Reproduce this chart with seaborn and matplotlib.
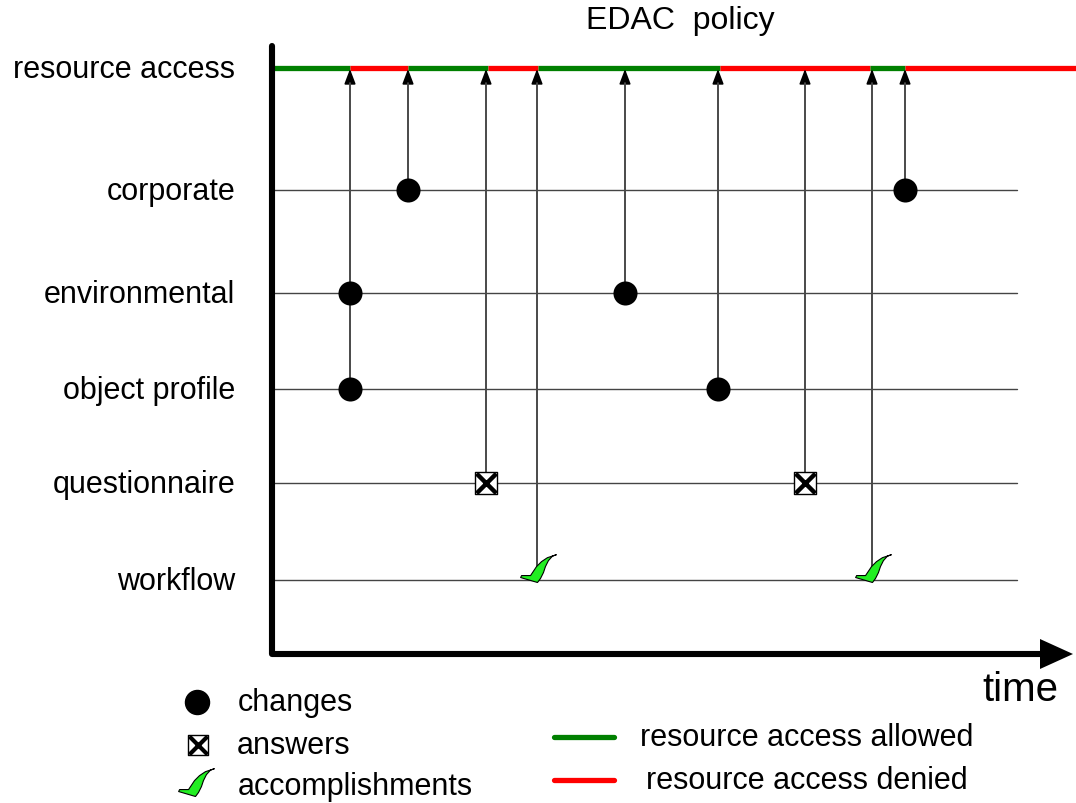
import numpy as np
import pandas as pd
import matplotlib
matplotlib.use("Agg")
import matplotlib.pyplot as plt
from matplotlib.path import Path
import seaborn as sns

# ---------------- data ----------------
rows = ["resource access", "corporate", "environmental", "object profile",
        "questionnaire", "workflow"]

change_times = [350, 350, 408, 625, 718, 905]
change_rows = ["environmental", "object profile", "corporate",
               "environmental", "object profile", "corporate"]

answer_times = [486, 805]
answer_rows = ["questionnaire", "questionnaire"]

accomplish_times = [537, 872]
accomplish_rows = ["workflow", "workflow"]

state_times = [272, 350, 408, 488, 538, 720, 870, 905, 1076]
state_values = ["allowed", "denied", "allowed", "denied", "allowed",
                "denied", "allowed", "denied"]

title = "EDAC  policy"
legend_labels = ["changes", "answers", "accomplishments",
                 "resource access allowed", "resource access denied"]

# ---------------- layout / style ----------------
row_pos = {"resource access": 69, "corporate": 191, "environmental": 294,
           "object profile": 390, "questionnaire": 484, "workflow": 581}
state_color = {"allowed": "#008000", "denied": "#ff0000"}
row_line_end = 1017
axis_x0 = 272

sns.set_theme(style="white")
plt.rcParams["font.family"] = ["Liberation Sans", "DejaVu Sans"]
plt.rcParams["text.color"] = "black"

fig = plt.figure(figsize=(10.76, 8.04), dpi=100)
ax = fig.add_axes([0, 0, 1, 1])
ax.set_xlim(0, 1076)
ax.set_ylim(804, 0)
ax.axis("off")

# check-mark marker (tip of the check at the data point)
check_verts = [(0, 0), (-17, 5), (-16, 7), (-7, 7), (-5, 10), (-1, 16),
               (4, 21), (10, 25), (19, 28), (15, 26.5), (11, 22), (8, 16),
               (6, 10), (3, 4), (0, 0)]
check_path = Path(check_verts, closed=True)
CHECK_S = 1600

# row lines
for r in rows[1:]:
    y = row_pos[r]
    ax.plot([axis_x0, row_line_end], [y, y], color="#444444", lw=1.0, zorder=1)

# row labels
for r in rows:
    ax.text(235, row_pos[r] + 1, r, ha="right", va="center", fontsize=22,
            color="black")

# resource access state segments
seg_df = pd.DataFrame({"t0": state_times[:-1], "t1": state_times[1:],
                       "state": state_values})
for _, s in seg_df.iterrows():
    ax.plot([s.t0, s.t1], [row_pos["resource access"]] * 2,
            color=state_color[s.state], lw=3.8, solid_capstyle="butt", zorder=3)

# arrows from events to the resource-access line
ev = pd.DataFrame({
    "t": change_times + answer_times + accomplish_times,
    "row": change_rows + answer_rows + accomplish_rows,
})
ev["y"] = ev["row"].map(row_pos)
arrow_src = ev.groupby("t")["y"].max().reset_index()
arrow_src.loc[arrow_src["t"].isin(accomplish_times), "y"] -= 14
for _, a in arrow_src.iterrows():
    ax.annotate("", xy=(a.t, row_pos["resource access"] + 1),
                xytext=(a.t, a.y), zorder=4,
                arrowprops=dict(arrowstyle="-|>,head_length=0.9,head_width=0.34",
                                mutation_scale=10, color="black", lw=1.2,
                                shrinkA=0, shrinkB=0))
for _, a in arrow_src.iterrows():
    ax.plot([a.t, a.t], [a.y, row_pos["resource access"] + 15],
            color="#555555", lw=1.2, zorder=4)

# markers
chg = pd.DataFrame({"t": change_times, "y": [row_pos[r] for r in change_rows]})
sns.scatterplot(data=chg, x="t", y="y", ax=ax, s=300, color="black",
                edgecolor="black", linewidth=0, zorder=6, legend=False)

ans = pd.DataFrame({"t": answer_times, "y": [row_pos[r] for r in answer_rows]})
sns.scatterplot(data=ans, x="t", y="y", ax=ax, marker="s", s=260,
                facecolor="white", edgecolor="black", linewidth=1.0,
                zorder=6, legend=False)
sns.scatterplot(data=ans, x="t", y="y", ax=ax, marker="x", s=200,
                color="black", linewidth=3.2, zorder=7, legend=False)

acc = pd.DataFrame({"t": accomplish_times,
                    "y": [row_pos[r] + 2 for r in accomplish_rows]})
sns.scatterplot(data=acc, x="t", y="y", ax=ax, marker=check_path, s=CHECK_S,
                color="#22ee22", edgecolor="black", linewidth=0.8,
                zorder=6, legend=False)

# main axes lines
ax.plot([axis_x0, axis_x0, 1045], [47, 655, 655], color="black", lw=4.4,
        solid_capstyle="round", solid_joinstyle="round", zorder=8)
ax.fill([1040, 1073, 1040], [640, 655, 670], color="black", zorder=8, lw=0)

ax.text(680, 21, title, ha="center", va="center", fontsize=23)
ax.text(1058, 690, "time", ha="right", va="center", fontsize=29)

# legend (manual)
ax.scatter([197], [703], s=300, color="black", zorder=6)
ax.text(238, 703, legend_labels[0], ha="left", va="center", fontsize=22)
ax.scatter([198], [746], marker="s", s=220, facecolor="white",
           edgecolor="black", linewidth=1.0, zorder=6)
ax.scatter([198], [746], marker="x", s=170, color="black", linewidth=3.0,
           zorder=7)
ax.text(237, 746, legend_labels[1], ha="left", va="center", fontsize=22)
ax.scatter([195], [797], marker=check_path, s=CHECK_S, color="#22ee22",
           edgecolor="black", linewidth=0.8, zorder=6)
ax.text(238, 787, legend_labels[2], ha="left", va="center", fontsize=22)

ax.plot([554, 614], [738, 738], color=state_color["allowed"], lw=3.8,
        solid_capstyle="round")
ax.text(640, 738, legend_labels[3], ha="left", va="center", fontsize=22)
ax.plot([554, 614], [781, 781], color=state_color["denied"], lw=3.8,
        solid_capstyle="round")
ax.text(646, 781, legend_labels[4], ha="left", va="center", fontsize=22)

fig.savefig("out.png", dpi=100)
